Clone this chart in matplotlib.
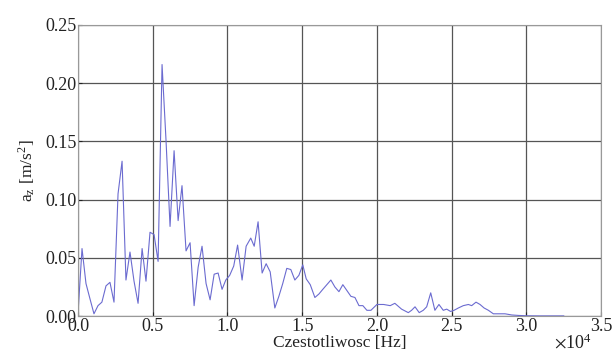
import matplotlib
matplotlib.use("Agg")
import matplotlib.pyplot as plt
from matplotlib.ticker import FuncFormatter

plt.rcParams["font.family"] = ["Liberation Serif", "DejaVu Serif"]
plt.rcParams["mathtext.fontset"] = "stix"

# frequency [Hz] and acceleration amplitude [m/s^2]
freq = [0, 270, 535, 800, 1070, 1340, 1600, 1875, 2140, 2410, 2680, 2950, 3210,
        3480, 3750, 4020, 4290, 4550, 4820, 5090, 5360, 5625, 5890, 6160, 6430,
        6700, 6960, 7230, 7500, 7770, 8040, 8300, 8570, 8840, 9110, 9375, 9640,
        9890, 10150, 10420, 10680, 10980, 11250, 11560, 11790, 12050, 12320,
        12590, 12860, 13170, 13440, 13700, 13970, 14240, 14510, 14780, 15040,
        15270, 15540, 15850, 16120, 16380, 16650, 16920, 17190, 17460, 17720,
        17990, 18260, 18530, 18800, 19060, 19330, 19600, 20000, 20450, 20890,
        21200, 21650, 22100, 22320, 22550, 22830, 23100, 23330, 23600, 23880,
        24150, 24440, 24670, 24930, 25160, 25450, 25780, 26120, 26340, 26630,
        26900, 27170, 27460, 27790, 28190, 28570, 29020, 29460, 30000, 30900,
        32500]
acc = [0.002, 0.058, 0.028, 0.015, 0.002, 0.009, 0.012, 0.026, 0.029, 0.012,
       0.105, 0.133, 0.031, 0.055, 0.030, 0.011, 0.058, 0.030, 0.072, 0.070,
       0.047, 0.216, 0.151, 0.077, 0.142, 0.082, 0.112, 0.056, 0.063, 0.009,
       0.042, 0.060, 0.028, 0.014, 0.036, 0.037, 0.023, 0.031, 0.035, 0.043,
       0.061, 0.031, 0.060, 0.067, 0.060, 0.081, 0.037, 0.045, 0.038, 0.007,
       0.017, 0.028, 0.041, 0.040, 0.031, 0.035, 0.044, 0.032, 0.027, 0.016,
       0.019, 0.023, 0.027, 0.031, 0.025, 0.021, 0.027, 0.022, 0.017, 0.016,
       0.009, 0.009, 0.005, 0.005, 0.010, 0.010, 0.009, 0.011, 0.006, 0.003,
       0.005, 0.008, 0.003, 0.005, 0.008, 0.020, 0.005, 0.010, 0.005, 0.006,
       0.004, 0.005, 0.007, 0.009, 0.010, 0.009, 0.012, 0.010, 0.007, 0.005,
       0.002, 0.002, 0.002, 0.001, 0.0006, 0.0003, 0.0002, 0.0002]

xticks = [0, 5000, 10000, 15000, 20000, 25000, 30000, 35000]
yticks = [0, 0.05, 0.10, 0.15, 0.20, 0.25]

fig = plt.figure(figsize=(6.14, 3.56), dpi=100)
ax = fig.add_axes([0.127, 0.112, 0.852, 0.818])

ax.plot(freq, acc, color="#6b6bd0", linewidth=0.8)

ax.set_xlim(0, 35000)
ax.set_ylim(0, 0.25)
ax.set_xticks(xticks)
ax.set_yticks(yticks)
ax.xaxis.set_major_formatter(FuncFormatter(lambda v, p: "%.1f" % (v / 1e4)))
ax.yaxis.set_major_formatter(FuncFormatter(lambda v, p: "%.2f" % v))
ax.tick_params(direction="in", length=3, labelsize=13, pad=1, colors="#222222")
ax.grid(True, color="#555555", linewidth=0.9)
for s in ax.spines.values():
    s.set_color("#999999")

ax.set_xlabel("Czestotliwosc [Hz]", fontsize=12.5, labelpad=0, color="#222222")
ax.set_ylabel(r"a$_\mathregular{z}$ [m/s$^\mathregular{2}$]", fontsize=12.5,
              labelpad=5, color="#222222")
fig.text(0.903, 0.02, r"$\times$10$^\mathregular{4}$", fontsize=13, color="#222222")

plt.savefig("out.png", dpi=100)
